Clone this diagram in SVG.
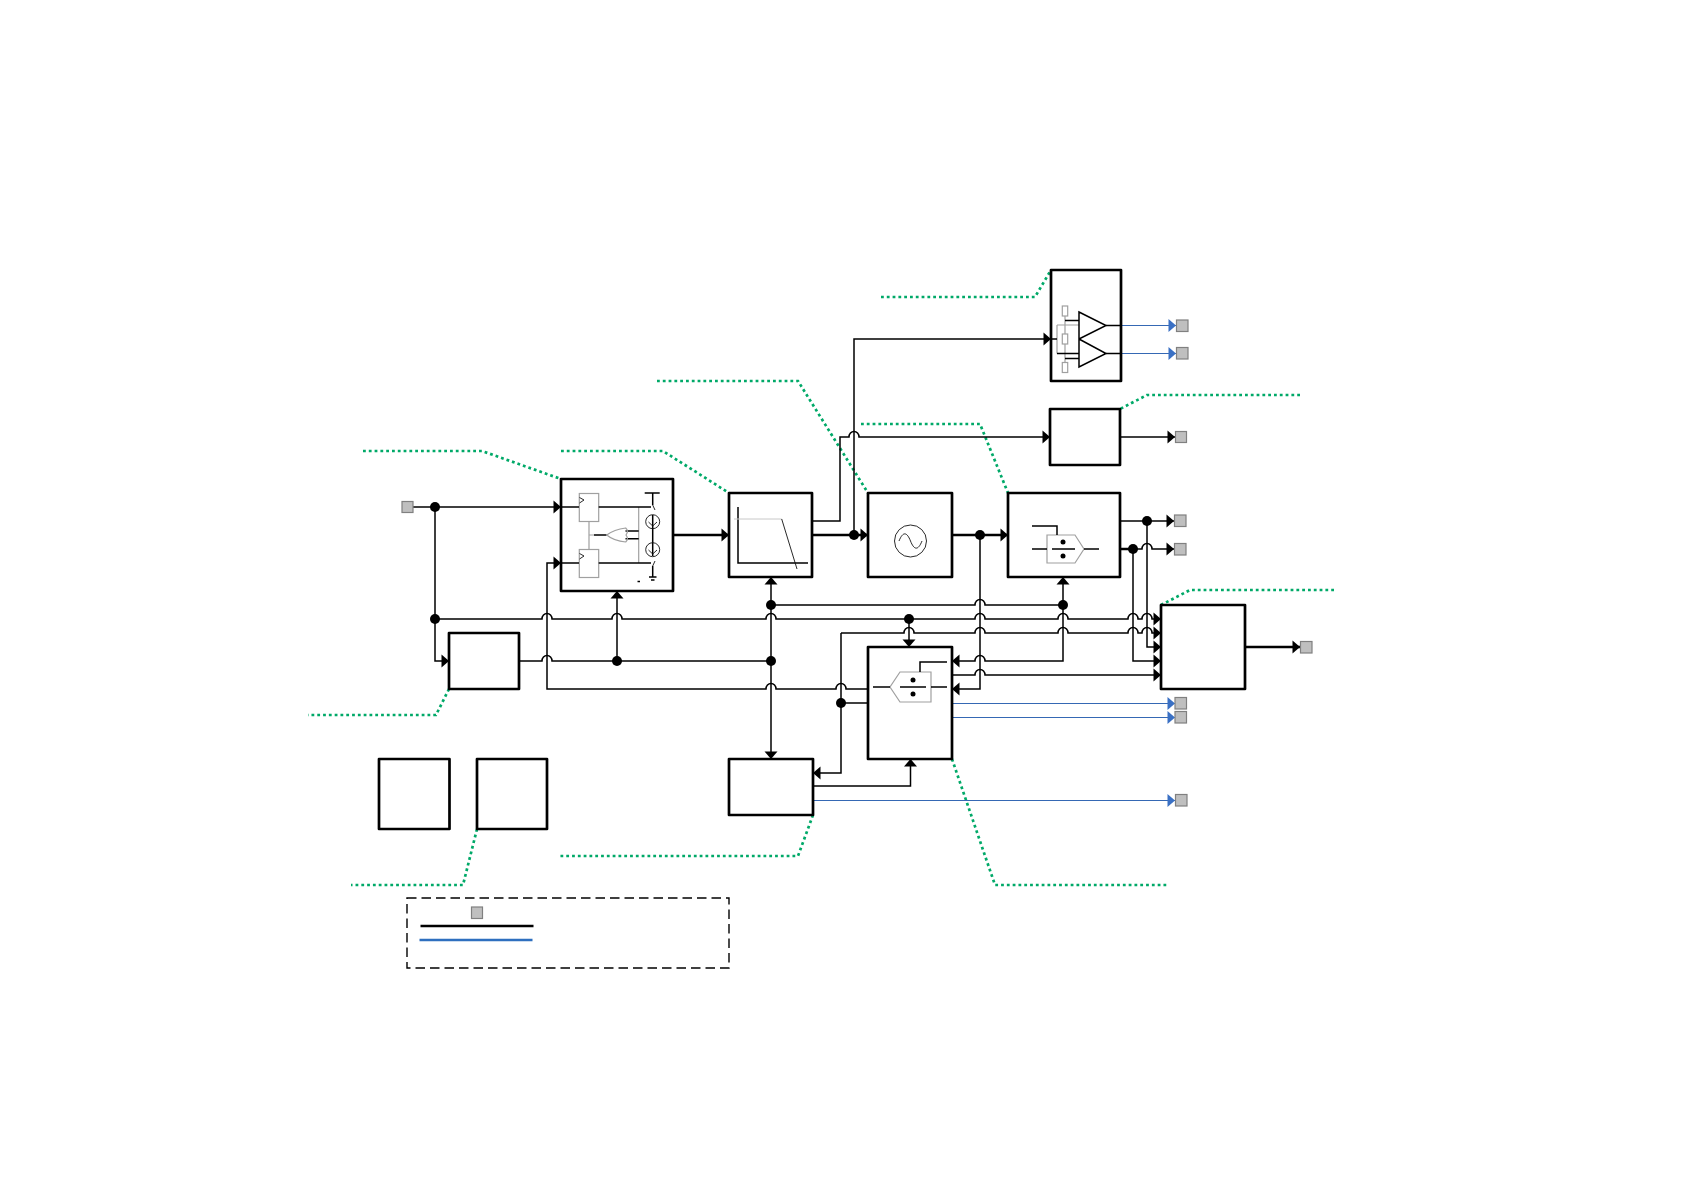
<svg xmlns="http://www.w3.org/2000/svg" width="1684" height="1191" viewBox="0 0 1684 1191">
<style>
.box{fill:#fff;stroke:#000;stroke-width:2.700;stroke-linejoin:round}
.l{fill:none;stroke:#000;stroke-width:1.500}
.th{fill:none;stroke:#000;stroke-width:2.500}
.b{fill:none;stroke:#3568b4;stroke-width:1.100}
.g{fill:none;stroke:#00a968;stroke-width:2.700;stroke-dasharray:2.800 3}
.t{fill:none;stroke:#111;stroke-width:.9}
.gr{fill:none;stroke:#a0a0a0;stroke-width:1.200}
.grf{fill:#fff;stroke:#a0a0a0;stroke-width:1.200}
.sq{fill:#bfbfbf;stroke:#808080;stroke-width:1.200}
.d{fill:#000}
</style>
<defs>
<marker id="a" markerUnits="userSpaceOnUse" markerWidth="9" markerHeight="14" refX="8" refY="7" orient="auto-start-reverse"><path d="M0.500 0.500L8 7L0.500 13.500Z" fill="#000"/></marker>
<marker id="ab" markerUnits="userSpaceOnUse" markerWidth="9" markerHeight="14" refX="8" refY="7" orient="auto-start-reverse"><path d="M0.500 0.500L8 7L0.500 13.500Z" fill="#3a70c4"/></marker>
</defs>

<g id="callouts">
<path class="g" d="M363 451H482L561 479"/>
<path class="g" d="M561 451H663L729 493"/>
<path class="g" d="M657 381H798L868 493"/>
<path class="g" d="M861 424H980L1008 493"/>
<path class="g" d="M881 297H1035L1051 270"/>
<path class="g" d="M1300 395H1147L1120 409"/>
<path class="g" d="M1334 590H1190L1161 605"/>
<path class="g" d="M952 759L995 885H1168"/>
<path class="g" d="M813 815L798 856H560"/>
<path class="g" d="M477 829L463 885H351"/>
<path class="g" d="M449 689L436 715H308"/>
</g>

<g id="connectors">
<path class="l" d="M413 507H561" marker-end="url(#a)"/>
<path class="l" d="M435 507V661H449" marker-end="url(#a)"/>
<path class="l" d="M435 619H542A5 5.500 0 0 1 552 619H612A5 5.500 0 0 1 622 619H766A5 5.500 0 0 1 776 619H975A5 5.500 0 0 1 985 619H1058A5 5.500 0 0 1 1068 619H1128A5 5.500 0 0 1 1138 619H1142A5 5.500 0 0 1 1152 619H1161" marker-end="url(#a)"/>
<path class="l" d="M519 661H542A5 5.500 0 0 1 552 661H771"/>
<path class="l" d="M617 661V591" marker-end="url(#a)"/>
<path class="l" d="M868 689H846A5 5.500 0 0 0 836 689H776A5 5.500 0 0 0 766 689H547V563H561" marker-end="url(#a)"/>
<path class="l" d="M771 577V759" marker-start="url(#a)" marker-end="url(#a)"/>
<path class="l" d="M771 605H975A5 5.500 0 0 1 985 605H1063"/>
<path class="l" d="M841 633H904A5 5.500 0 0 1 914 633H975A5 5.500 0 0 1 985 633H1058A5 5.500 0 0 1 1068 633H1128A5 5.500 0 0 1 1138 633H1142A5 5.500 0 0 1 1152 633H1161" marker-end="url(#a)"/>
<path class="l" d="M909 619V647" marker-end="url(#a)"/>
<path class="l" d="M841 633V773H813" marker-end="url(#a)"/>
<path class="l" d="M841 703H868"/>
<path class="l" d="M813 786H910.500V759" marker-end="url(#a)"/>
<path class="l" d="M1063 577V661H985A5 5.500 0 0 0 975 661H952" marker-start="url(#a)" marker-end="url(#a)"/>
<path class="l" d="M980 535V689H952" marker-end="url(#a)"/>
<path class="l" d="M952 675H975A5 5.500 0 0 1 985 675H1161" marker-end="url(#a)"/>
<path class="l" d="M1133 549V661H1161" marker-end="url(#a)"/>
<path class="l" d="M1147 521V647H1161" marker-end="url(#a)"/>
<path class="th" d="M673 535H729" marker-end="url(#a)"/>
<path class="th" d="M812 535H868" marker-end="url(#a)"/>
<path class="th" d="M952 535H1008" marker-end="url(#a)"/>
<path class="l" d="M812 521H840V437H849A5 5.500 0 0 1 859 437H1050" marker-end="url(#a)"/>
<path class="l" d="M854 535V339H1051" marker-end="url(#a)"/>
<path class="l" d="M1120 437H1175" marker-end="url(#a)"/>
<path class="l" d="M1120 521H1174" marker-end="url(#a)"/>
<path class="th" d="M1120 549H1133"/>
<path class="l" d="M1133 549H1142A5 5.500 0 0 1 1152 549H1174" marker-end="url(#a)"/>
<path class="th" d="M1245 647H1300" marker-end="url(#a)"/>
<path class="b" d="M1121 325.500H1176" marker-end="url(#ab)"/>
<path class="b" d="M1121 353.500H1176" marker-end="url(#ab)"/>
<path class="b" d="M952 703.500H1175" marker-end="url(#ab)"/>
<path class="b" d="M952 717.500H1175" marker-end="url(#ab)"/>
<path class="b" d="M813 800.500H1175" marker-end="url(#ab)"/>
<circle class="d" cx="435" cy="507" r="5"/>
<circle class="d" cx="435" cy="619" r="5"/>
<circle class="d" cx="617" cy="661" r="5"/>
<circle class="d" cx="771" cy="605" r="5"/>
<circle class="d" cx="771" cy="661" r="5"/>
<circle class="d" cx="854" cy="535" r="5"/>
<circle class="d" cx="980" cy="535" r="5"/>
<circle class="d" cx="1063" cy="605" r="5"/>
<circle class="d" cx="909" cy="619" r="5"/>
<circle class="d" cx="841" cy="703" r="5"/>
<circle class="d" cx="1147" cy="521" r="5"/>
<circle class="d" cx="1133" cy="549" r="5"/>
</g>

<g id="input-pad"><rect class="sq" x="402" y="501.500" width="11" height="11"/></g>
<g id="output-pads">
<rect class="sq" x="1176.500" y="320" width="11.500" height="11.500"/>
<rect class="sq" x="1176.500" y="347.500" width="11.500" height="11.500"/>
<rect class="sq" x="1175.500" y="431.500" width="11" height="11"/>
<rect class="sq" x="1174.500" y="515" width="11.500" height="11.500"/>
<rect class="sq" x="1174.500" y="543.500" width="11.500" height="11.500"/>
<rect class="sq" x="1300.500" y="641.500" width="11.500" height="11.500"/>
<rect class="sq" x="1175" y="697.500" width="11.500" height="11.500"/>
<rect class="sq" x="1175" y="711.500" width="11.500" height="11.500"/>
<rect class="sq" x="1175.500" y="794.500" width="11.500" height="11.500"/>
</g>

<g id="charge-pump">
<rect class="box" x="561" y="479" width="112" height="112"/>
<rect class="grf" x="579.300" y="493.500" width="19.400" height="28"/>
<rect class="grf" x="579.300" y="549.500" width="19.400" height="28"/>
<path class="t" d="M579.500 497.500L584 500L579.500 503M579.500 553.500L584 556L579.500 559"/>
<path class="gr" d="M589 521.500V549.500M589 535H594M638.700 507V563"/>
<path class="l" d="M561 507H579M598.700 507H651M561 563H579M598.700 563H651M594 535H606.700M625.500 531H638.700M625.500 538.700H638.700"/>
<path class="gr" d="M606.700 535Q614 529.500 625.700 528Q629 531 626 535Q629 539 625.700 542Q614 541 606.700 535Z"/>
<path class="l" d="M644.700 493H659.700M652.700 493V505M652.700 515V556M652.700 566V577M649 577H656.500M651 580H654.500"/>
<path class="t" d="M652.700 505L655 510M652.700 566L655 561"/>
<circle class="t" cx="652.700" cy="521.700" r="7"/>
<circle class="t" cx="652.700" cy="549.700" r="7"/>
<path class="t" d="M648.500 522L652.700 526L657 522M648.500 550L652.700 554L657 550"/>
<path class="l" d="M637.500 581.500H640"/>
</g>

<g id="loop-filter">
<rect class="box" x="729" y="493" width="83" height="84"/>
<path class="l" d="M738 507V563H808"/>
<path d="M734 519H781.700" fill="none" stroke="#c8c8c8" stroke-width="1"/>
<path class="t" d="M781.700 519L797 569"/>
</g>

<g id="vco">
<rect class="box" x="868" y="493" width="84" height="84"/>
<circle class="t" cx="910.500" cy="541" r="16"/>
<path class="t" d="M899 541C903 531 907 532 910.500 541C914 550 918 551 922 541"/>
</g>

<g id="divider-1">
<rect class="box" x="1008" y="493" width="112" height="84"/>
<path class="gr" d="M1047 535H1075L1084 549L1075 563H1047Z"/>
<path class="l" d="M1032 526H1057V535M1032 549H1047M1052 549H1075M1084 549H1099"/>
<circle class="d" cx="1063" cy="542" r="2.500"/>
<circle class="d" cx="1063" cy="556" r="2.500"/>
</g>

<g id="output-buffer">
<rect class="box" x="1051" y="270" width="70" height="111"/>
<rect class="grf" x="1062.300" y="306" width="5.400" height="10"/>
<rect class="grf" x="1062.300" y="334" width="5.400" height="10"/>
<rect class="grf" x="1062.300" y="362.500" width="5.400" height="10"/>
<path class="gr" d="M1065 316V334M1065 344V362.500M1057 325V353.500M1057 325H1079"/>
<path class="l" d="M1065 320.500H1079M1057 353.500H1079M1065 358.500H1079M1051 339H1057M1106 325.500H1121M1106 353.500H1121"/>
<path fill="#fff" stroke="#000" stroke-width="1.500" d="M1079 312L1106 325.500L1079 339ZM1079 339L1106 353.500L1079 367Z"/>
</g>

<g id="block-ld"><rect class="box" x="1050" y="409" width="70" height="56"/></g>
<g id="block-ref"><rect class="box" x="449" y="633" width="70" height="56"/></g>
<g id="block-lock"><rect class="box" x="1161" y="605" width="84" height="84"/></g>

<g id="divider-2">
<rect class="box" x="868" y="647" width="84" height="112"/>
<path class="gr" d="M931 672H900L890 687L900 702H931Z"/>
<path class="l" d="M873 687H890M900 687H926M931 687H947M920 672V662H947"/>
<circle class="d" cx="913" cy="680" r="2.500"/>
<circle class="d" cx="913" cy="694" r="2.500"/>
</g>

<g id="block-sync"><rect class="box" x="729" y="759" width="84" height="56"/></g>
<g id="block-a"><rect class="box" x="379" y="759" width="70.500" height="70"/></g>
<g id="block-b"><rect class="box" x="477" y="759" width="70" height="70"/></g>

<g id="legend">
<rect x="407" y="898" width="322" height="70" fill="none" stroke="#000" stroke-width="1.400" stroke-dasharray="9.500 5"/>
<rect class="sq" x="471.500" y="907" width="11" height="11.500"/>
<path d="M420.500 926H533.500" stroke="#000" stroke-width="2.700"/>
<path d="M419.500 940H532.500" stroke="#2e6fbf" stroke-width="2.700"/>
</g>
</svg>
